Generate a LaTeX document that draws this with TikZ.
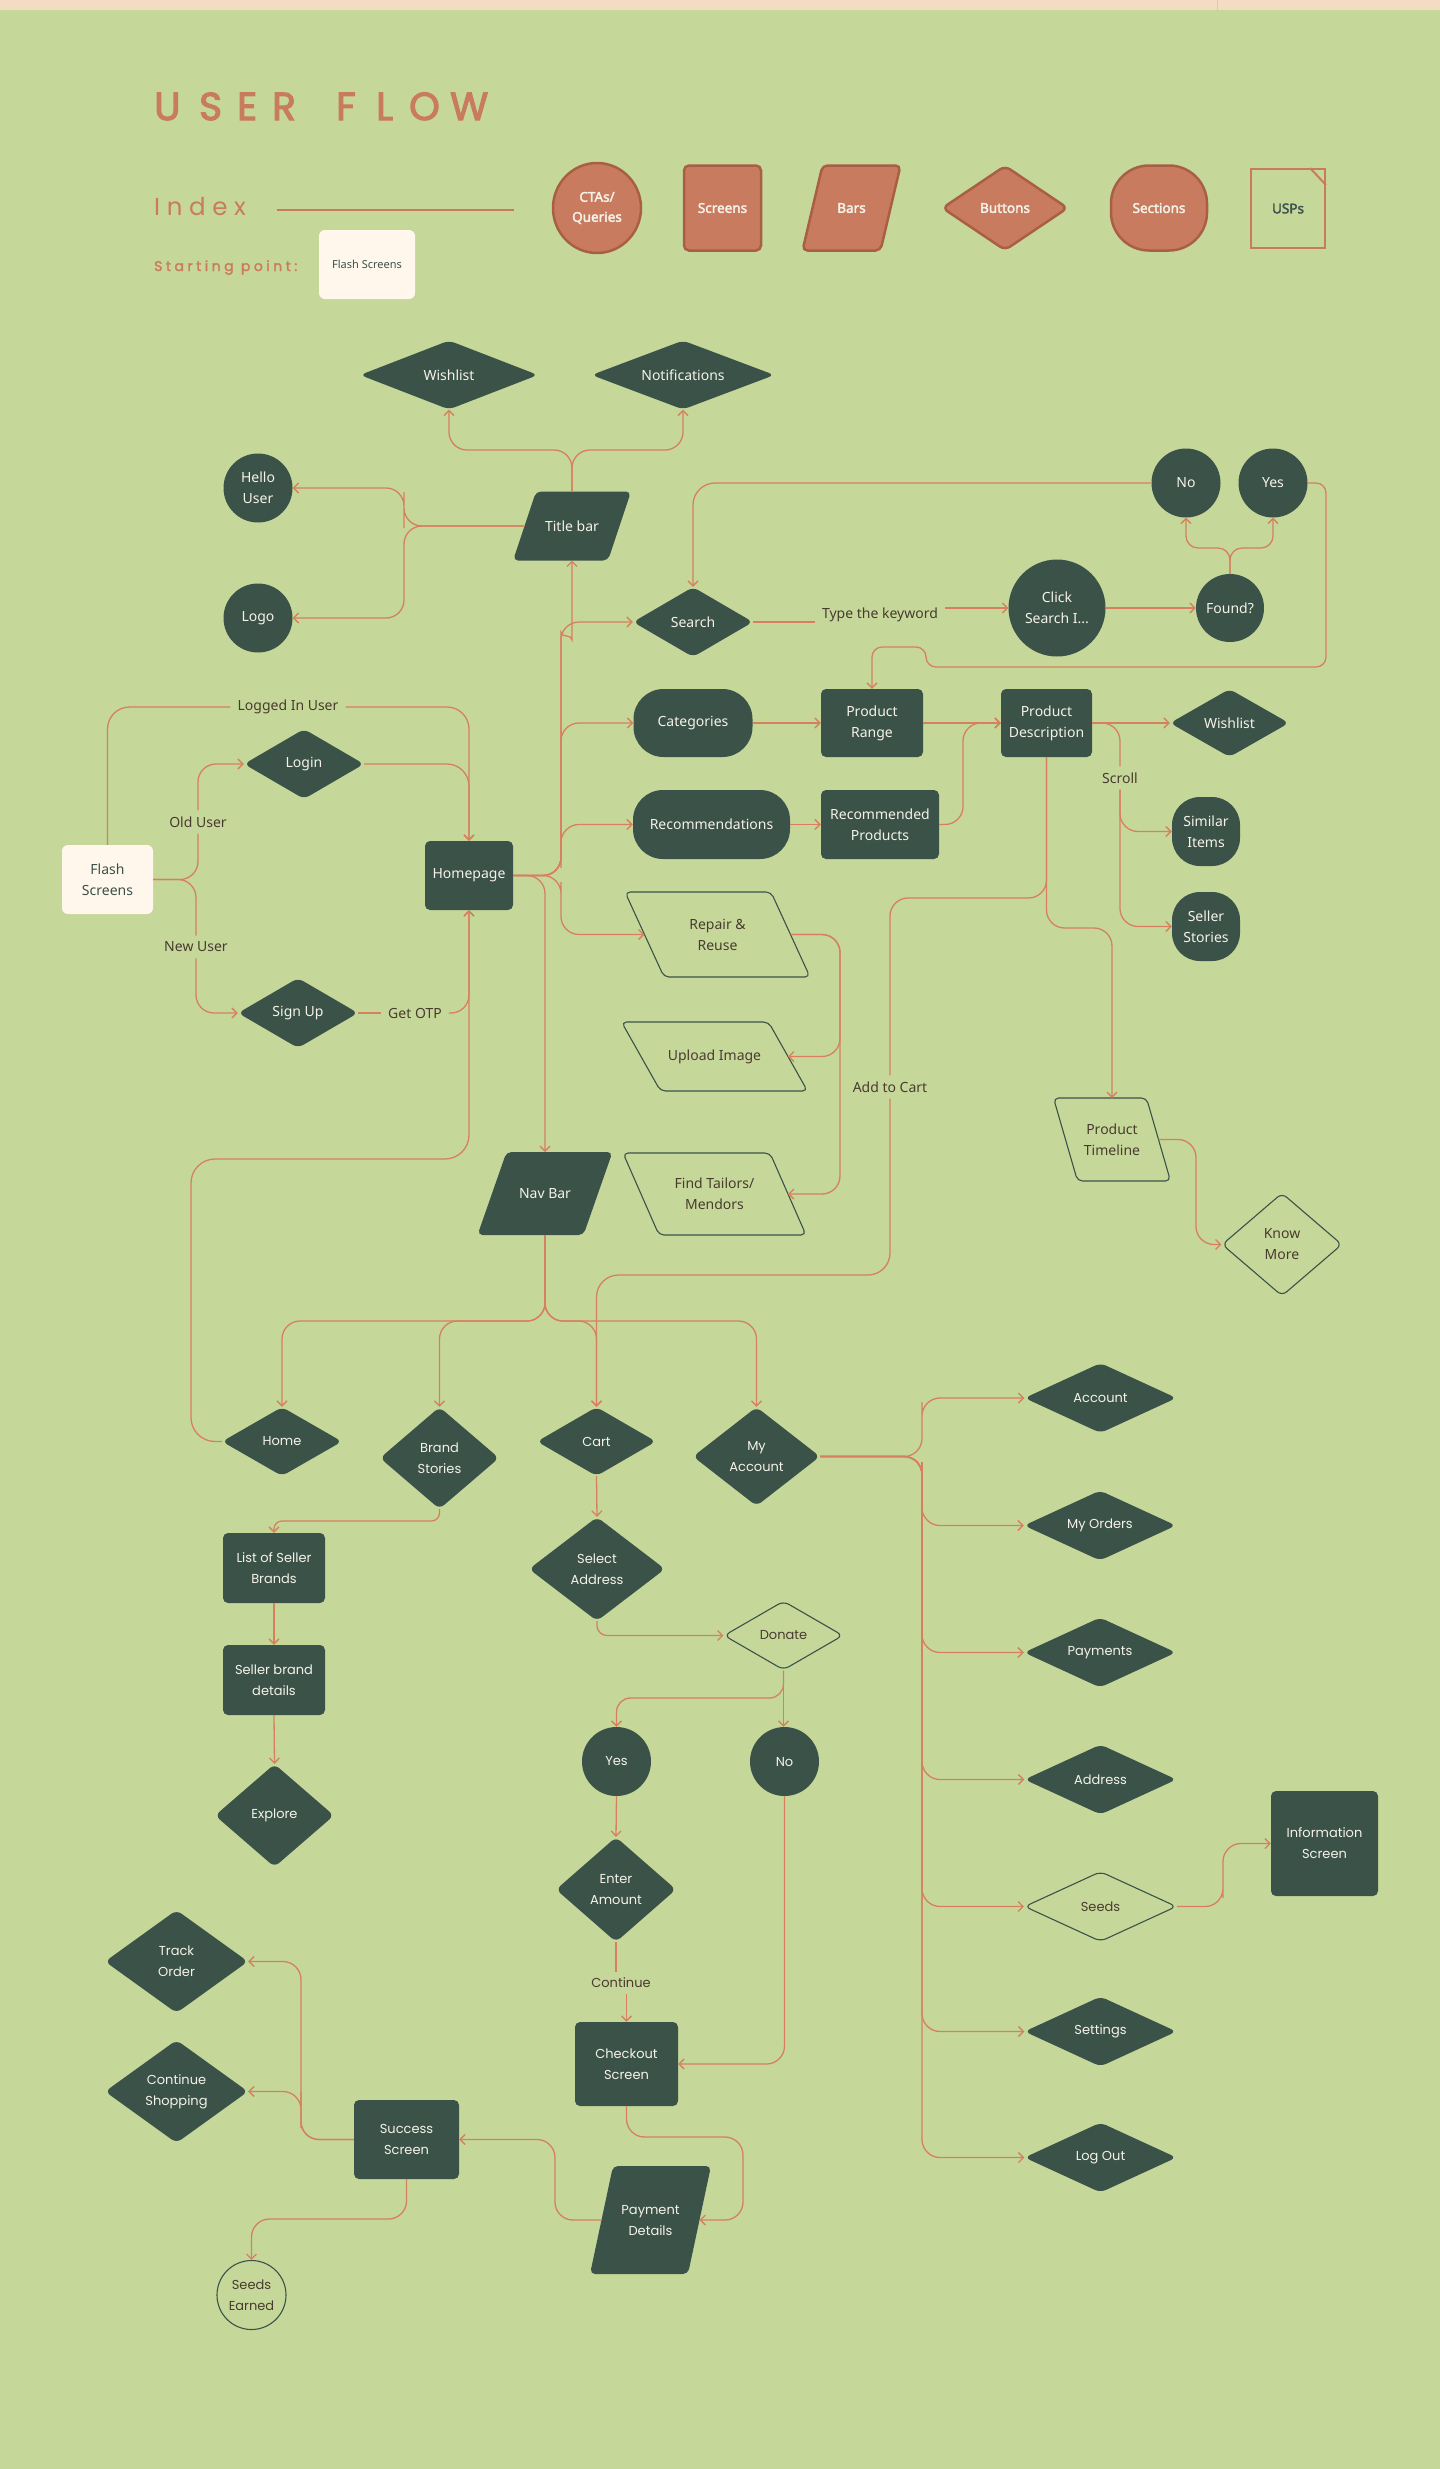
\documentclass[tikz,border=0pt]{standalone}
\usepackage{fontspec}
\usetikzlibrary{shapes.geometric,arrows.meta}
\newfontfamily\nf{Noto Sans}
\newfontfamily\nfb{Noto Sans}[FakeBold=2.5]
\newfontfamily\pf{Poppins}
\newfontfamily\pfb{Poppins}[FakeBold=3]
\newfontfamily\pfm{Poppins}[FakeBold=1.8]
\newcommand\myfu{\nf\fontsize{14}{21}\selectfont}
\newcommand\myfl{\pf\fontsize{13}{21}\selectfont}
\definecolor{bgc}{HTML}{C5D89A}
\definecolor{dk}{HTML}{3B5249}
\definecolor{lc}{HTML}{D7805F}
\definecolor{tc}{HTML}{C97B5F}
\definecolor{tcd}{HTML}{A95F45}
\definecolor{cr}{HTML}{FFF7EC}
\definecolor{pe}{HTML}{F3DCC2}
\definecolor{brn}{HTML}{4A3B30}
\definecolor{wt}{HTML}{F5F2E8}
\pgfdeclarelayer{bgl}
\pgfdeclarelayer{back}
\pgfsetlayers{bgl,back,main}
\newcommand\parashape[3]{%
  \begin{pgfonlayer}{back}
  \path[#3] ([xshift={-(#2)/2}]#1.south west) -- ([xshift={-(#2)/2}]#1.south east) -- ([xshift={(#2)/2}]#1.north east) -- ([xshift={(#2)/2}]#1.north west) -- cycle;
  \end{pgfonlayer}}
\begin{document}
\begin{tikzpicture}[x=1pt,y=-1pt,
  conn/.style={draw=lc, line width=1.3pt, rounded corners=18pt},
  arr/.style={conn, -{Straight Barb[length=5pt,width=10pt]}},
  wh/.style 2 args={minimum width=#1pt, minimum height=#2pt},
  dm/.style n args={3}{minimum width=#1pt, minimum height=#2pt, aspect=#3},
  dbase/.style={fill=dk, text=wt, align=center, inner sep=0pt, font=\myfu},
  lbase/.style={draw=dk, line width=1.1pt, text=brn, align=center, inner sep=0pt, font=\myfu},
  scr/.style={dbase, rectangle, rounded corners=5pt},
  sect/.style={dbase, rectangle, rounded corners=30pt},
  btn/.style={dbase, diamond, rounded corners=6pt},
  obtn/.style={lbase, diamond, rounded corners=6pt},
  cta/.style={dbase, circle},
  lbl/.style={fill=bgc, text=brn, font=\myfu, inner xsep=7pt, inner ysep=6pt},
  barD/.style={rectangle, inner sep=0pt, outer sep=0pt, text=wt, align=center, font=\myfu},
  barL/.style={barD, text=brn},
  low/.style={font=\myfl},
  paraD/.style={fill=dk, rounded corners=5pt},
  paraL/.style={draw=dk, line width=1.1pt, rounded corners=5pt},
  legf/.style={font=\nfb\fontsize{13.5}{20}\selectfont},
  leg/.style={fill=tc, draw=tcd, line width=2.5pt, text=wt, align=center, inner sep=0pt, legf},
]
\useasboundingbox (0,0) rectangle (1440,2469);
\begin{pgfonlayer}{bgl}
\fill[bgc] (0,0) rectangle (1440,2469);
\fill[pe] (0,0) rectangle (1440,10);
\draw[bgc, line width=1pt] (1217,0) -- (1217,10);
\end{pgfonlayer}

% ---------- header ----------
\node (title) [anchor=base west, inner sep=0pt, text=tc, font=\pfb\fontsize{39}{39}\selectfont] at (154,120)
 {\makebox[45pt][l]{U}\makebox[38pt][l]{S}\makebox[35pt][l]{E}\makebox[64pt][l]{R}\makebox[40pt][l]{F}\makebox[33pt][l]{L}\makebox[41pt][l]{O}W};
\node (index) [anchor=base west, inner sep=0pt, text=tc, font=\pf\fontsize{24.5}{25}\selectfont\addfontfeatures{LetterSpace=27}] at (154,215) {Index};
\coordinate (il1) at (277,210);
\coordinate (il2) at (514,210);
\draw[tc, line width=1.5pt] (il1) -- (il2);
\node (start) [anchor=base west, inner sep=0pt, text=tc, font=\pfm\fontsize{14}{16}\selectfont\addfontfeatures{LetterSpace=25}] at (154,271) {Starting point:};
\node (legflash) [fill=cr, rounded corners=6pt, wh={96}{69}, text=dk, font=\nf\fontsize{11}{14}\selectfont, inner sep=0pt] at (367,264.5) {Flash Screens};

\node (leg1) [leg, ellipse, wh={88}{90}] at (597,208) {CTAs/\\Queries};
\node (leg2) [leg, rectangle, rounded corners=5pt, wh={77}{85}] at (722.5,208) {Screens};
\node (leg3) [barD, wh={78}{85}, legf] at (851.5,208) {Bars};
\parashape{leg3}{20}{fill=tc, draw=tcd, line width=2.5pt, rounded corners=5pt}
\node (leg4) [leg, diamond, rounded corners=6pt, dm={126}{85}{1.48}] at (1005,208) {Buttons};
\node (leg5) [leg, rectangle, rounded corners=38pt, wh={96}{85}] at (1159,208) {Sections};
\node (leg6) [draw=tc, line width=2pt, wh={74}{79}, text=dk, inner sep=0pt, legf] at (1288,208.5) {USPs};
\draw[tc, line width=2pt] ([xshift=-16pt]leg6.north east) -- ([yshift=-17pt]leg6.north east);

% ---------- top section ----------
\node (wl1) [btn, dm={178}{69}{2.58}] at (449,375) {Wishlist};
\node (notif) [btn, dm={183}{69}{2.65}] at (683,375) {Notifications};
\node (tb) [barD, wh={95}{69}] at (572,526) {Title bar};
\parashape{tb}{23}{paraD}
\node (hello) [cta, minimum size=69pt] at (258,488) {Hello\\User};
\node (logo) [cta, minimum size=69pt] at (258,618) {Logo};
\node (search) [btn, dm={120}{70}{1.71}] at (693,622) {Search};
\node (kw) [lbl] at (880,615) {Type the keyword};
\node (click) [cta, minimum size=97pt] at (1057,608) {Click\\Search I...};
\node (found) [cta, minimum size=68pt] at (1230,608) {Found?};
\node (no1) [cta, minimum size=69pt] at (1186,483) {No};
\node (yes1) [cta, minimum size=69pt] at (1273,483) {Yes};

\node (cat) [sect, wh={119}{68}] at (693,723) {Categories};
\node (pr) [scr, wh={102}{68}] at (872,723) {Product\\Range};
\node (pd) [scr, wh={91}{68}] at (1046.5,723) {Product\\Description};
\node (wl2) [btn, dm={119}{68}{1.75}] at (1229.5,723) {Wishlist};
\node (rec) [sect, wh={157}{69}] at (711.5,824.5) {Recommendations};
\node (rp) [scr, wh={118}{69}] at (880,824.5) {Recommended\\Products};
\node (scroll) [lbl] at (1120,778) {Scroll};
\node (sim) [dbase, rectangle, rounded corners=28pt, wh={68}{69}] at (1206,831.5) {Similar\\Items};
\node (sell) [dbase, rectangle, rounded corners=28pt, wh={68}{69}] at (1206,926.5) {Seller\\Stories};

\node (rr) [barL, wh={146}{85}] at (717.5,934.5) {Repair \&\\Reuse};
\parashape{rr}{-39}{paraL}
\node (up) [barL, wh={147}{69}] at (714.5,1056.5) {Upload Image};
\parashape{up}{-39}{paraL}
\node (ft) [barL, wh={147}{82}] at (714.5,1194) {Find Tailors/\\Mendors};
\parashape{ft}{-36}{paraL}
\node (atc) [lbl] at (890,1087) {Add to Cart};
\node (ptl) [barL, wh={93}{83}] at (1112,1139.5) {Product\\Timeline};
\parashape{ptl}{-24}{paraL}
\node (km) [obtn, dm={120}{103}{1.165}] at (1282,1244.5) {Know\\More};

% ---------- left section ----------
\node (flash) [fill=cr, rounded corners=6pt, wh={91}{69}, text=dk, align=center, inner sep=0pt, font=\myfu] at (107.5,879.5) {Flash\\Screens};
\node (liu) [lbl] at (288,707) {Logged In User};
\node (ou) [lbl] at (198,822) {Old User};
\node (nu) [lbl] at (196,947) {New User};
\node (login) [btn, dm={120}{70}{1.71}] at (304,764) {Login};
\node (signup) [btn, dm={120}{70}{1.71}] at (298,1013) {Sign Up};
\node (otp) [lbl] at (415,1013) {Get OTP};
\node (home) [scr, wh={88}{69}] at (469,875.5) {Homepage};
\node (nav) [barD, wh={106}{83}] at (545,1193.5) {Nav Bar};
\parashape{nav}{29}{paraD}

% ---------- lower section ----------
\node (homen) [btn, low, dm={120}{69}{1.74}] at (282,1441.5) {Home};
\node (bs) [btn, low, dm={119}{102}{1.167}] at (439.5,1458) {Brand\\Stories};
\node (cart) [btn, low, dm={119}{69}{1.72}] at (596.5,1441.5) {Cart};
\node (ma) [btn, low, dm={127}{99}{1.28}] at (756.5,1456.5) {My\\Account};
\node (lsb) [scr, low, wh={102}{70}] at (274,1568) {List of Seller\\Brands};
\node (sbd) [scr, low, wh={102}{70}] at (274,1680) {Seller brand\\details};
\node (exp) [btn, low, dm={119}{103}{1.155}] at (274.5,1815.5) {Explore};
\node (sa) [btn, low, dm={136}{104}{1.31}] at (597,1569) {Select\\Address};
\node (don) [obtn, low, dm={119}{69}{1.72}] at (783.5,1635.5) {Donate};
\node (yes2) [cta, low, minimum size=69pt] at (616.5,1761.5) {Yes};
\node (no2) [cta, low, minimum size=69pt] at (784.5,1761.5) {No};
\node (ea) [btn, low, dm={120}{105}{1.14}] at (616,1889.5) {Enter\\Amount};
\node (cont) [lbl, low] at (621,1983) {Continue};
\node (co) [scr, low, wh={103}{84}] at (626.5,2064) {Checkout\\Screen};
\node (ss) [scr, low, wh={105}{79}] at (406.5,2139.5) {Success\\Screen};
\node (pay) [barD, low, wh={98}{108}] at (650.5,2220) {Payment\\Details};
\parashape{pay}{23}{paraD}
\node (to) [btn, low, dm={143}{103}{1.39}] at (176.5,1961.5) {Track\\Order};
\node (cs) [btn, low, dm={143}{103}{1.39}] at (176.5,2091.5) {Continue\\Shopping};
\node (se) [lbase, low, circle, minimum size=69pt] at (251.5,2295) {Seeds\\Earned};

% ---------- right column ----------
\node (acc) [btn, low, dm={152}{70}{2.17}] at (1100.5,1398) {Account};
\node (mo) [btn, low, dm={152}{70}{2.17}] at (1100,1525.5) {My Orders};
\node (paym) [btn, low, dm={152}{70}{2.17}] at (1100,1652.5) {Payments};
\node (addr) [btn, low, dm={152}{70}{2.17}] at (1100.5,1779.5) {Address};
\node (seeds) [obtn, low, dm={152}{70}{2.17}] at (1100.5,1906.5) {Seeds};
\node (set) [btn, low, dm={152}{70}{2.17}] at (1100.5,2031.5) {Settings};
\node (lo) [btn, low, dm={152}{70}{2.17}] at (1100.5,2157.5) {Log Out};
\node (info) [scr, low, wh={107}{105}] at (1324.5,1843.5) {Information\\Screen};

% ---------- connectors: top ----------
\draw[arr] (tb.north) |- (449,450) -- (wl1.south);
\draw[arr] (tb.north) |- (683,450) -- (notif.south);
\draw[arr] (tb.west) -| (404,510) |- (hello.east);
\draw[arr] (tb.west) -| (404,560) |- (logo.east);

\draw[conn] (search.east) -- (search.east -| kw.west);
\draw[arr] (click.west -| kw.east) -- (click.west);
\draw[arr] (click.east) -- (found.west);
\draw[arr, rounded corners=12pt] (found.north) |- (1186,548) -- (no1.south);
\draw[arr, rounded corners=12pt] (found.north) |- (1273,548) -- (yes1.south);
\draw[arr, rounded corners=22pt] (no1.west) -| (search.north);
\draw[arr, rounded corners=10pt] (yes1.east) -| (1326,667) -| (926,647) -| (pr.north);

\draw[arr] (cat.east) -- (pr.west);
\draw[arr] (pr.east) -- (pd.west);
\draw[arr] (rec.east) -- (rp.west);
\draw[arr] (rp.east) -| (963,760) |- (pd.west);
\draw[arr] (pd.east) -- (wl2.west);
\draw[conn] (pd.east) -| (scroll.north);
\draw[arr] (scroll.south) |- (sim.west);
\draw[arr] (scroll.south) |- (sell.west);

\draw[conn] (pd.south) |- (890,898) -- (atc.north);
\draw[arr, rounded corners=22pt] (atc.south) |- (596.5,1275) -- (cart.north);
\draw[arr] (pd.south) |- (1112,928) -- (ptl.north);
\draw[arr] (ptl.east) -| (1196,1200) |- (km.west);

\draw[arr] (rr.east) -| (840,1000) |- (up.east);
\draw[arr] (rr.east) -| (840,1100) |- (ft.east);

% ---------- connectors: homepage ----------
\draw[arr] (home.east) -| (561,800) |- (cat.west);
\draw[arr] (home.east) -| (561,850) |- (rec.west);
\draw[arr] (home.east) -| (561,700) |- (search.west);
\draw[arr] (home.east) -| (561,650) to[out=90,in=-90] (572,622) -- (tb.south);
\draw[arr] (home.east) -| (561,900) |- (rr.west);
\draw[arr] (home.east) -| (nav.north);

\draw[conn, rounded corners=22pt] (flash.north) |- (liu.west);
\draw[arr, rounded corners=22pt] (liu.east) -| (home.north);
\draw[conn] (flash.east) -| (ou.south);
\draw[arr] (ou.north) |- (login.west);
\draw[conn] (flash.east) -| (nu.north);
\draw[arr] (nu.south) |- (signup.west);
\draw[arr, rounded corners=22pt] (login.east) -| (home.north);
\draw[conn] (signup.east) -- (otp.west);
\draw[arr] (otp.east) -| (home.south);
\draw[arr, rounded corners=24pt] (homen.west) -| (191,1159) -| (home.south);

\draw[arr] (nav.south) |- (282,1321) -- (homen.north);
\draw[arr] (nav.south) |- (439.5,1321) -- (bs.north);
\draw[arr] (nav.south) |- (596.5,1321) -- (cart.north);
\draw[arr] (nav.south) |- (756.5,1321) -- (ma.north);

% ---------- connectors: lower ----------
\draw[arr, rounded corners=8pt] (bs.south) |- (350,1521) -| (lsb.north);
\draw[arr] (lsb.south) -- (sbd.north);
\draw[arr] (sbd.south) -- (exp.north);
\draw[arr] (cart.south) -- (sa.north);
\draw[arr, rounded corners=10pt] (sa.south) |- (don.west);
\draw[arr, rounded corners=14pt] (don.south) |- (700,1698) -| (yes2.north);
\draw[arr] (don.south) -- (don.south |- no2.north);
\draw[arr] (yes2.south) -- (ea.north);
\draw[conn] (ea.south) -- (ea.south |- cont.north);
\draw[arr] (co.north |- cont.south) -- (co.north);
\draw[arr] (no2.south) |- (co.east);
\draw[arr] (co.south) |- (743,2137) |- (pay.east);
\draw[arr] (pay.west) -| (555,2180) |- (ss.east);
\draw[arr] (ss.west) -| (301,2000) |- (to.east);
\draw[arr] (ss.west) -| (301,2110) |- (cs.east);
\draw[arr] (ss.south) |- (300,2219) -| (se.north);

\draw[arr] (ma.east) -| (922,1420) |- (acc.west);
\draw[arr] (ma.east) -| (922,1480) |- (mo.west);
\draw[arr] (ma.east) -| (922,1480) |- (paym.west);
\draw[arr] (ma.east) -| (922,1480) |- (addr.west);
\draw[arr] (ma.east) -| (922,1480) |- (seeds.west);
\draw[arr] (ma.east) -| (922,1480) |- (set.west);
\draw[arr] (ma.east) -| (922,1480) |- (lo.west);
\draw[arr] (seeds.east) -| (1223,1880) |- (info.west);
\end{tikzpicture}
\end{document}
